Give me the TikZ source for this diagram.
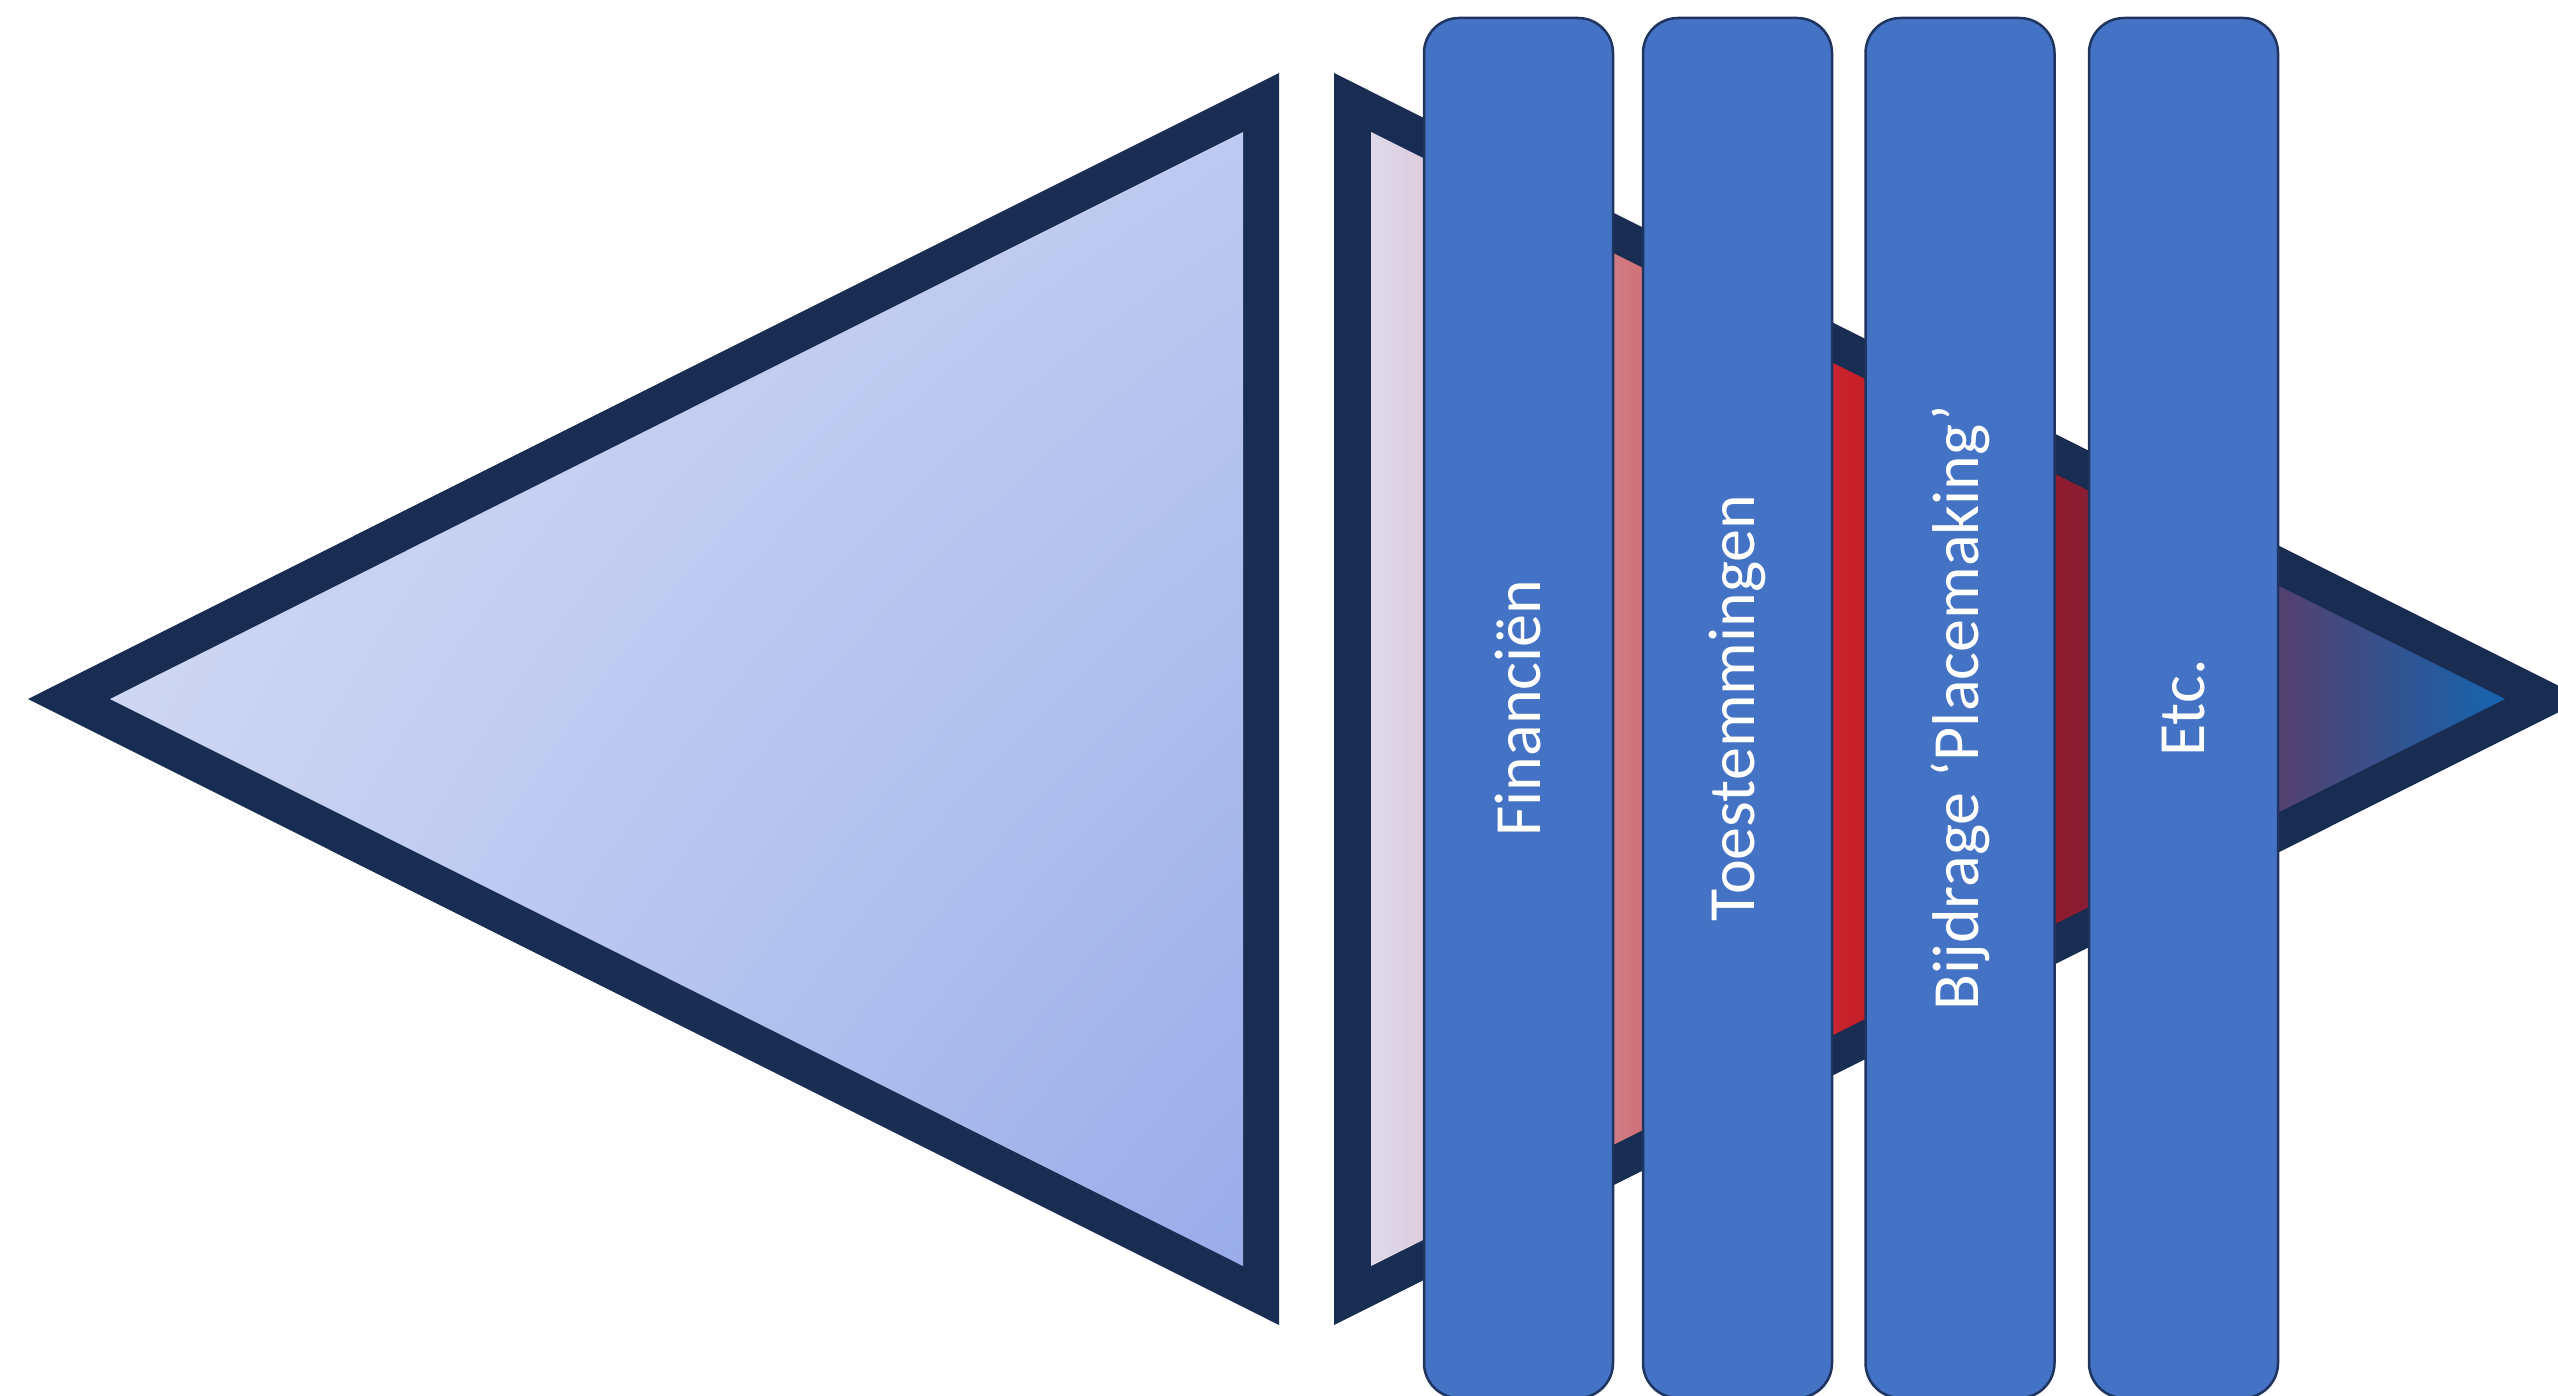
\documentclass[tikz,border=0pt]{standalone}
\usepackage{fontspec}
\usetikzlibrary{shadings}
\setmainfont{Carlito}
\definecolor{navy}{HTML}{192C51}
\definecolor{barblue}{HTML}{4472C4}
\definecolor{barline}{HTML}{1F345E}
\definecolor{ga}{HTML}{DDDAEB}
\definecolor{gb}{HTML}{DCCCDD}
\definecolor{gc}{HTML}{D0767E}
\definecolor{gd}{HTML}{C8202A}
\definecolor{ge}{HTML}{8C1C30}
\definecolor{gf}{HTML}{52406E}
\definecolor{gg}{HTML}{1565B0}
\definecolor{lul}{HTML}{D6DCF4}
\definecolor{lur}{HTML}{BECAEF}
\definecolor{lll}{HTML}{C6D0F1}
\definecolor{llr}{HTML}{98ACE9}
\pgfdeclarehorizontalshading{rightgrad}{100bp}{color(0bp)=(ga); color(25bp)=(ga); color(27.4bp)=(gb); color(36.3bp)=(gc); color(46.1bp)=(gd); color(55.9bp)=(ge); color(65.1bp)=(gf); color(75bp)=(gg); color(100bp)=(gg)}
\tikzset{
  bar/.style={draw=barline, line width=2.5pt, fill=barblue, rounded corners=35pt,
    rotate=90, minimum width=1380pt, minimum height=189pt, inner sep=0pt,
    text=white, font=\fontsize{66}{79}\selectfont},
}
\begin{document}
\begin{tikzpicture}[x=1pt,y=-1pt]
\useasboundingbox (0,0) rectangle (2558,1396);
% left triangle
\fill[navy] (28,699) -- (1279,73) -- (1279,1325) -- cycle;
\shade[upper left=lul, upper right=lur, lower left=lll, lower right=llr]
  (110,699) -- (1243,132) -- (1243,1266) -- cycle;
% right triangle
\fill[navy] (1334,73) -- (2585,699) -- (1334,1325) -- cycle;
\shade[shading=rightgrad] (1371,132) -- (2505,699) -- (1371,1266) -- cycle;
% bars
\node[bar] (b1) at (1518.5,708) {Financiën};
\node[bar] (b2) at (1737.5,708) {Toestemmingen};
\node[bar] (b3) at (1960,708) {Bijdrage ‘Placemaking’};
\node[bar] (b4) at (2183.5,708) {Etc.};
\end{tikzpicture}
\end{document}
